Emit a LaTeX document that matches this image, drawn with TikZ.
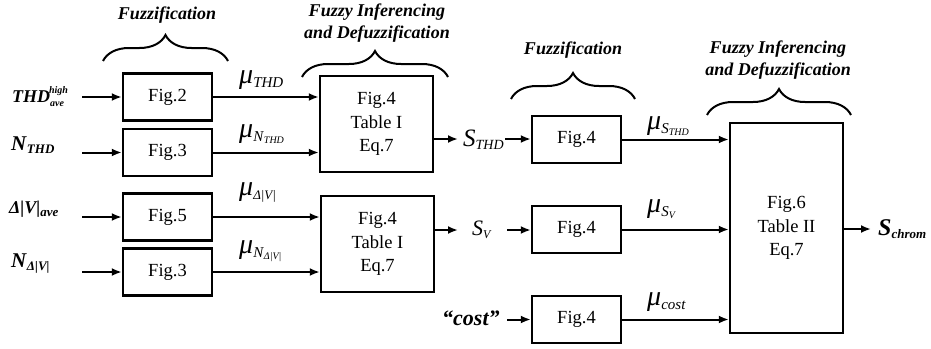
\documentclass[tikz,border=0pt]{standalone}
\usepackage{fontspec}
\setmainfont{Liberation Serif}
\usetikzlibrary{arrows.meta,decorations.pathreplacing}
\newcommand{\setsz}[1]{\fontsize{#1}{#1}\selectfont}

\begin{document}
\begin{tikzpicture}%
                [x=1pt,
                y=-1pt,
                >={Latex[length=10pt,width=8pt]},
                box/.style={draw, line width=2.4pt, minimum width=89pt, minimum height=47pt, align=center, font=\fontsize{18.5}{20.5}\selectfont},
                rulebox/.style={box, minimum width=113pt},
                flow/.style={->, line width=2pt},
                brace/.style={decorate, decoration={brace, amplitude=26pt, aspect=0.5}, line width=2pt},
                stage/.style={align=center, font=\fontsize{18}{20.5}\selectfont\bfseries\itshape},
                signal/.style={inner sep=0pt, anchor=base west}]
            %
            \useasboundingbox (0,0) rectangle (931,348);
            %
            %% Stage titles and braces
            %%
            \node[stage] (fzA) at (167,15) {Fuzzification};
            \node[stage] (infTitleA) at (377,23) {Fuzzy Inferencing\\[1pt]and Defuzzification};
            \node[stage] (fzB) at (573,50) {Fuzzification};
            \node[stage] (infTitleB) at (778,60) {Fuzzy Inferencing\\[1pt]and Defuzzification};
            \draw[brace] (103,61) -- (228,61);
            \draw[brace] (302,77) -- (448,77);
            \draw[brace] (511,99) -- (635,99);
            \draw[brace] (707,115) -- (851,115);
            %%
            %% Blocks
            %%
            \node[box] (fig2)  at (167.5,97)    {Fig.2};
            \node[box] (fig3a) at (167.5,152.5) {Fig.3};
            \node[box] (fig5)  at (167.5,217)   {Fig.5};
            \node[box] (fig3b) at (167.5,272)   {Fig.3};
            \node[rulebox, minimum height=96pt] (infA) at (376.5,124) {Fig.4\\[3pt]Table I\\[3pt]Eq.7};
            \node[rulebox, minimum height=96pt] (infB) at (377.5,244) {Fig.4\\[3pt]Table I\\[3pt]Eq.7};
            \node[box] (fig4a) at (576.5,139.5) {Fig.4};
            \node[box] (fig4b) at (576.5,229.5) {Fig.4};
            \node[box] (fig4c) at (576.5,319.5) {Fig.4};
            \node[rulebox, minimum height=210pt] (infC) at (786.5,228) {Fig.6\\[3pt]Table II\\[3pt]Eq.7};
            %%
            %% Input signals
            %%
            \node[signal] (thd) at (12,102) {\setsz{18}\textbf{\textit{THD}}\raisebox{-4pt}{\setsz{10}\textbf{\textit{ave}}}\hspace{-15pt}\raisebox{9pt}{\setsz{10}\textbf{\textit{high}}}};
            \node[signal] (nthd) at (11,150) {\setsz{21}\textbf{\textit{N}}\raisebox{-3pt}{\setsz{13}\textbf{\textit{THD}}}};
            \node[signal] (dv) at (9,213) {\setsz{18}\textbf{\textit{Δ|V|}}\raisebox{-3pt}{\setsz{13}\textbf{\textit{ave}}}};
            \node[signal] (ndv) at (11,267) {\setsz{21}\textbf{\textit{N}}\raisebox{-3pt}{\setsz{13}\textbf{\textit{Δ|V|}}}};
            \node[signal] (cost) at (442,325) {\setsz{22}\textbf{\textit{“cost”}}};
            %%
            %% Membership values
            %%
            \node[signal] (muThd) at (239,83) {\setsz{28}\textit{μ}\raisebox{-4pt}{\setsz{15}\textit{THD}}};
            \node[signal] (muNthd) at (239,137) {\setsz{28}\textit{μ}\raisebox{-4pt}{\setsz{15}\textit{N}\raisebox{-2pt}{\setsz{10}\textit{THD}}}};
            \node[signal] (muDv) at (239,195) {\setsz{28}\textit{μ}\raisebox{-4pt}{\setsz{13}\textit{Δ|V|}}};
            \node[signal] (muNdv) at (239,253) {\setsz{28}\textit{μ}\raisebox{-4pt}{\setsz{15}\textit{N}\raisebox{-2pt}{\setsz{10}\textit{Δ|V|}}}};
            \node[signal] (muSthd) at (647,129) {\setsz{28}\textit{μ}\raisebox{-4pt}{\setsz{15}\textit{S}\raisebox{-2pt}{\setsz{10}\textit{THD}}}};
            \node[signal] (muSv) at (647,212) {\setsz{28}\textit{μ}\raisebox{-4pt}{\setsz{15}\textit{S}\raisebox{-2pt}{\setsz{10}\textit{V}}}};
            \node[signal] (muCost) at (647,305) {\setsz{28}\textit{μ}\raisebox{-4pt}{\setsz{15}\textit{cost}}};
            %%
            %% Intermediate and output signals
            %%
            \node[signal] (sthd) at (463,146) {\setsz{25}\textit{S}\raisebox{-3pt}{\setsz{14}\textit{THD}}};
            \node[signal] (sv) at (472,235) {\setsz{22}\textit{S}\raisebox{-3pt}{\setsz{12}\textit{V}}};
            \node[signal] (schrom) at (878,235) {\setsz{24}\textbf{\textit{S}}\raisebox{-3pt}{\setsz{13}\textbf{\textit{chrom}}}};
            %%
            %% Arrow end points
            %%
            \coordinate (thdOut) at (82,97);
            \coordinate (nthdOut) at (82,152.5);
            \coordinate (dvOut) at (82,217);
            \coordinate (ndvOut) at (82,272);
            \coordinate (sthdIn) at (458,139);
            \coordinate (sthdOut) at (505,139);
            \coordinate (svIn) at (458,230);
            \coordinate (svOut) at (507,230);
            \coordinate (costOut) at (507,319.5);
            \coordinate (chromIn) at (871,229);
            %%
            %% Drawing the arrows
            %%
            \draw[flow] (thdOut) -- (fig2.west |- thdOut);
            \draw[flow] (nthdOut) -- (fig3a.west |- nthdOut);
            \draw[flow] (dvOut) -- (fig5.west |- dvOut);
            \draw[flow] (ndvOut) -- (fig3b.west |- ndvOut);
            \draw[flow] (fig2.east) -- (fig2.east -| infA.west);
            \draw[flow] (fig3a.east) -- (fig3a.east -| infA.west);
            \draw[flow] (fig5.east) -- (fig5.east -| infB.west);
            \draw[flow] (fig3b.east) -- (fig3b.east -| infB.west);
            \draw[flow] (infA.east |- sthdIn) -- (sthdIn);
            \draw[flow] (sthdOut) -- (fig4a.west |- sthdOut);
            \draw[flow] (infB.east |- svIn) -- (svIn);
            \draw[flow] (svOut) -- (fig4b.west |- svOut);
            \draw[flow] (costOut) -- (fig4c.west |- costOut);
            \draw[flow] (fig4a.east) -- (fig4a.east -| infC.west);
            \draw[flow] (fig4b.east) -- (fig4b.east -| infC.west);
            \draw[flow] (fig4c.east) -- (fig4c.east -| infC.west);
            \draw[flow] (infC.east |- chromIn) -- (chromIn);
            %%
            %%
            \end{tikzpicture}
\end{document}
